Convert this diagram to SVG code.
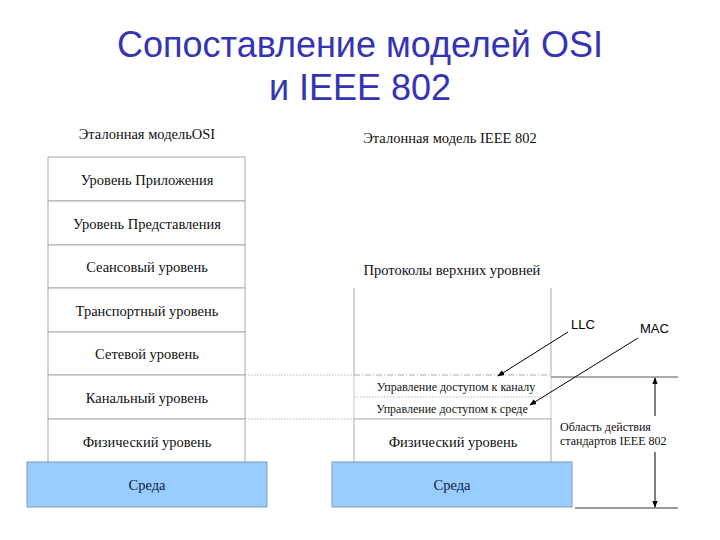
<svg xmlns="http://www.w3.org/2000/svg" width="720" height="540" viewBox="0 0 720 540">
<defs>
<marker id="ah" viewBox="0 0 10 10" refX="9" refY="5" markerWidth="7" markerHeight="7" orient="auto-start-reverse" markerUnits="userSpaceOnUse"><path d="M0,1 L10,5 L0,9 z" fill="#000"/></marker>
<style>
.t{font-family:"Liberation Serif","DejaVu Serif",serif;fill:#111;text-anchor:middle}
.s{font-size:14.5px}
.xs{font-size:12px}
.title{font-family:"Liberation Sans",Arial,sans-serif;font-size:36px;fill:#3434b4;text-anchor:middle}
.row{fill:#fff;stroke:#aaa;stroke-width:1}
.env{fill:#99ccff;stroke:#7f9ab5;stroke-width:1}
.envt{font-family:"Liberation Serif","DejaVu Serif",serif;font-size:14.5px;fill:#102040;text-anchor:middle}
.dot{stroke:#bbb;stroke-width:1;stroke-dasharray:1.5 1.5;fill:none}
.lab{font-family:"Liberation Sans",Arial,sans-serif;font-size:13px;fill:#000}
</style>
</defs>
<rect width="720" height="540" fill="#fff"/>
<g id="title">
<text class="title" x="360" y="57">Сопоставление моделей OSI</text>
<text class="title" x="360" y="100">и IEEE 802</text>
</g>
<g id="osi">
<text class="t s" x="147" y="139">Эталонная модельOSI</text>
<g id="osi-app"><rect class="row" x="48" y="157" width="197" height="44"/><text class="t s" x="147" y="185">Уровень Приложения</text></g>
<g id="osi-pres"><rect class="row" x="48" y="201" width="197" height="44"/><text class="t s" x="147" y="229">Уровень Представления</text></g>
<g id="osi-sess"><rect class="row" x="48" y="245" width="197" height="43"/><text class="t s" x="147" y="272">Сеансовый уровень</text></g>
<g id="osi-trans"><rect class="row" x="48" y="288" width="197" height="44"/><text class="t s" x="147" y="316">Транспортный уровень</text></g>
<g id="osi-net"><rect class="row" x="48" y="332" width="197" height="43"/><text class="t s" x="147" y="359">Сетевой уровень</text></g>
<g id="osi-link"><rect class="row" x="48" y="375" width="197" height="44"/><text class="t s" x="147" y="403">Канальный уровень</text></g>
<g id="osi-phys"><rect class="row" x="48" y="419" width="197" height="44"/><text class="t s" x="147" y="447">Физический уровень</text></g>
<g id="osi-env"><rect class="env" x="27" y="462" width="240" height="45"/><text class="envt" x="147" y="490">Среда</text></g>
</g>
<g id="ieee">
<text class="t s" x="450" y="143">Эталонная модель IEEE 802</text>
<text class="t s" x="452" y="275">Протоколы верхних уровней</text>
<g id="ieee-upper"><path d="M354,288 V375 M551,288 V375" stroke="#aaa" fill="none"/></g>
<g id="ieee-llc"><path d="M354,375 V397 M551,375 V397" stroke="#ccc" fill="none"/><text class="t xs" x="456" y="391">Управление доступом к каналу</text></g>
<g id="ieee-mac"><path d="M354,397 V419 M551,397 V419" stroke="#ccc" fill="none"/><text class="t xs" x="452" y="413">Управление доступом к среде</text></g>
<g id="ieee-phys"><rect class="row" x="354" y="419" width="197" height="44"/><text class="t s" x="453" y="447">Физический уровень</text></g>
<g id="ieee-env"><rect class="env" x="332" y="462" width="240" height="45"/><text class="envt" x="452" y="490">Среда</text></g>
</g>
<g id="connectors">
<path class="dot" d="M245,375 H354"/>
<path class="dot" d="M245,419 H354"/>
<path d="M354,375 H551" stroke="#aaa" stroke-dasharray="6 2 1 2" fill="none"/>
<path class="dot" d="M354,397 H551"/>
<path d="M551,377 H678" stroke="#555" fill="none"/>
<path d="M575,508 H678" stroke="#777" stroke-width="1.5" fill="none"/>
<path d="M568,332 L498,376" stroke="#000" marker-end="url(#ah)"/>
<path d="M638,338 L530,405" stroke="#000" marker-end="url(#ah)"/>
<path d="M655,416 V378" stroke="#000" marker-end="url(#ah)"/>
<path d="M655,452 V507" stroke="#000" marker-end="url(#ah)"/>
</g>
<g id="labels">
<text class="lab" x="571" y="329">LLC</text>
<text class="lab" x="640" y="333">MAC</text>
<text class="t xs" x="560" y="431" style="text-anchor:start">Область действия</text>
<text class="t xs" x="560" y="445" style="text-anchor:start">стандартов IEEE 802</text>
</g>
</svg>
